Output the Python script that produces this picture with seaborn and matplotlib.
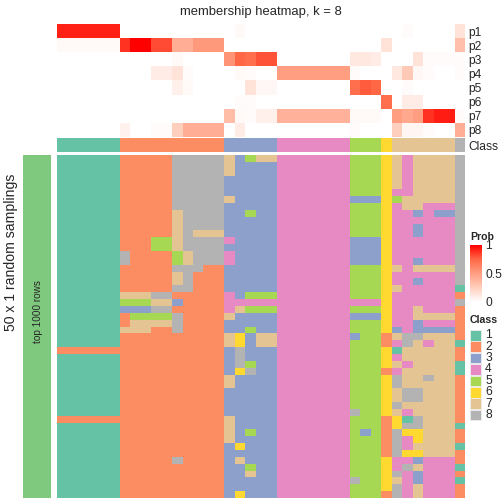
import numpy as np
import matplotlib
matplotlib.use("Agg")
import matplotlib.pyplot as plt
from matplotlib.colors import ListedColormap, LinearSegmentedColormap, Normalize
from matplotlib.cm import ScalarMappable
from matplotlib.patches import Rectangle
import seaborn as sns

sns.set_theme(style="white")
plt.rcParams["font.family"] = ["Liberation Sans", "DejaVu Sans"]

# ── Data ──────────────────────────────────────────────────────────────────────

prob_rows = ["p1", "p2", "p3", "p4", "p5", "p6", "p7", "p8"]
class_labels = ["1", "2", "3", "4", "5", "6", "7", "8"]

# consensus class of each of the 39 samples (columns)
consensus_class = [1] * 6 + [2] * 10 + [3] * 5 + [4] * 7 + [5] * 3 + [6] + [7] * 6 + [8]

# membership probabilities, one list per class (39 samples each)
p1 = [0.92] * 6 + [0] * 11 + [0.03] + [0] * 15 + [0.02] + [0] * 4 + [0.15]
p2 = ([0.03] * 6 + [0.88, 1.0, 1.0, 0.82, 0.82, 0.42, 0.42, 0.52, 0.52, 0.52]
      + [0] * 15 + [0.15] + [0] * 6 + [0.33])
p3 = ([0] * 11 + [0.03] + [0] * 4 + [0.55, 0.75, 0.72, 0.8, 0.8] + [0] * 7
      + [0.12, 0.12, 0.1, 0, 0, 0, 0.15, 0.02, 0.02, 0.02, 0.02])
p4 = ([0] * 9 + [0.1, 0.1, 0.15, 0.02, 0, 0, 0, 0, 0.03, 0.02, 0, 0] + [0.5] * 7
      + [0.02, 0, 0, 0, 0.12, 0.28, 0.04, 0.02, 0, 0, 0.02])
p5 = ([0] * 11 + [0.08, 0.03, 0, 0, 0, 0, 0, 0.15, 0.04, 0.04] + [0] * 7
      + [0.72, 0.78, 0.75, 0, 0, 0.02, 0, 0, 0, 0, 0])
p6 = [0] * 17 + [0.02, 0.02] + [0] * 12 + [0.72, 0, 0.1, 0.1, 0, 0, 0, 0]
p7 = ([0] * 16 + [0.35, 0.03, 0.02, 0.08, 0.08] + [0.4] * 7
      + [0.03, 0.03, 0.03, 0, 0.5, 0.45, 0.5, 0.88, 0.93, 0.93, 0.02])
p8 = ([0] * 6 + [0.07, 0, 0, 0.02, 0.02, 0.25, 0.42, 0.42, 0.42, 0.42, 0, 0.1, 0, 0, 0]
      + [0] * 7 + [0.02, 0, 0, 0, 0.25, 0.05, 0.05, 0.02, 0, 0, 0.42])

# class assigned to each sample (columns) in each of the 50 random samplings (rows)
sampling_classes = [
    "111111222228888873577444444455567477778",
    "111111222228888873333444444455567477778",
    "111111222228888873333444444455567477778",
    "111111222228888833333444444455567477778",
    "111111222228888833333444444455567477778",
    "111111222228888833333444444455564477778",
    "111111222228888873333444444433365777778",
    "111111222228888833333444444455564774448",
    "111111222227888833533444444455564434338",
    "111111222227888833333444444455564444448",
    "111111222227888833333444444455564434448",
    "111111222227877733333444444455564434448",
    "111111222557888843333444444433364444448",
    "111111222557888833333444444433364444448",
    "111111822225788843333444444433364444448",
    "111111822225788843333444444433364434448",
    "111111222228882233333444444455567477778",
    "111111222227822233333444444455564444448",
    "111111222227822233333444444455564434448",
    "111111222228822233333444444455567444441",
    "111111777882222243555444444455564444442",
    "111111555773222244444444444444464444448",
    "111111333882222247555444444455564474442",
    "111111255558222273333444444433364477772",
    "111111277778222233333444444455564434442",
    "111111777228222233533444444455563433332",
    "111111222222222276377444444435527887772",
    "111111222222222276377444444455524874771",
    "222222222222222238333444444455561777772",
    "111111222222222238333444444455564777772",
    "111111222222222238533444444455567477771",
    "111111222222222236833444444455524777771",
    "111111222222222273333444444455568778772",
    "111111222222222273333444444455568777772",
    "111111222222222233333444444455567887772",
    "111111222222222233333444444455567887772",
    "111111222222222233333444444455568777772",
    "111111222222222233333444444485567477772",
    "222222222222222273333444444455526187772",
    "111111222222222273333444444455526887771",
    "111111222222222273533444444453528667772",
    "111111222222222273333444444455528467772",
    "111111222222222236333444444455528477771",
    "111111222222222233333444444455528667772",
    "111111222228222237333444444455564434442",
    "111111222222222233533444444455564874441",
    "111111222222222233733444444455568434442",
    "111111222222222233333444444485567434441",
    "111111222222222233333444444455568474442",
    "111111222222222236333444444455528474442",
]

CLASS_COLORS = ["#66C2A5", "#FC8D62", "#8DA0CB", "#E78AC3",
                "#A6D854", "#FFD92F", "#E5C494", "#B3B3B3"]
SAMPLING_COLOR = "#7FC97F"
PROB_CMAP = LinearSegmentedColormap.from_list(
    "prob", ["#FFFFFF", "#FFCFBE", "#FF9E81", "#FF6846", "#FF0000"])
CLASS_CMAP = ListedColormap(CLASS_COLORS)

# ── Figure ────────────────────────────────────────────────────────────────────

W = H = 504
fig = plt.figure(figsize=(7, 7), dpi=72)


def px_axes(x0, y0, x1, y1):
    """Axes placed by pixel box (top-left origin)."""
    return fig.add_axes([x0 / W, 1 - y1 / H, (x1 - x0) / W, (y1 - y0) / H])


prob = np.array([p1, p2, p3, p4, p5, p6, p7, p8])
classes = np.array([[int(c) for c in row] for row in sampling_classes])

# membership probabilities
ax_prob = px_axes(57, 24, 465, 137)
sns.heatmap(prob, ax=ax_prob, cmap=PROB_CMAP, vmin=0, vmax=1, cbar=False,
            xticklabels=False, yticklabels=prob_rows)

# consensus class row
ax_cls = px_axes(57, 138, 465, 152)
sns.heatmap(np.array([consensus_class]), ax=ax_cls, cmap=CLASS_CMAP,
            vmin=0.5, vmax=8.5, cbar=False, xticklabels=False, yticklabels=["Class"])

for ax in (ax_prob, ax_cls):
    ax.yaxis.tick_right()
    ax.tick_params(axis="y", length=0, pad=3, labelsize=12, rotation=0)

# random samplings
ax_main = px_axes(57, 155, 465, 498)
sns.heatmap(classes, ax=ax_main, cmap=CLASS_CMAP, vmin=0.5, vmax=8.5,
            cbar=False, xticklabels=False, yticklabels=False)

ax_bar = px_axes(23, 155, 51, 498)
sns.heatmap(np.ones((len(sampling_classes), 1)), ax=ax_bar,
            cmap=ListedColormap([SAMPLING_COLOR]), cbar=False,
            xticklabels=False, yticklabels=False)

fig.text(261 / W, 1 - 12 / H, "membership heatmap, k = 8",
         ha="center", va="center", fontsize=13)
fig.text(11 / W, 1 - 252 / H, "50 x 1 random samplings",
         ha="center", va="center", rotation=90, fontsize=14)
fig.text(38 / W, 1 - 312 / H, "top 1000 rows",
         ha="center", va="center", rotation=90, fontsize=10)

# ── Legends ───────────────────────────────────────────────────────────────────

fig.text(470 / W, 1 - 237 / H, "Prob", ha="left", va="center",
         fontsize=10.5, fontweight="bold")
cax = px_axes(470, 245, 482, 302)
cb = fig.colorbar(ScalarMappable(Normalize(0, 1), PROB_CMAP), cax=cax,
                  ticks=[0, 0.5, 1])
cb.outline.set_visible(False)
cax.set_yticklabels(["0", "0.5", "1"])
cax.tick_params(axis="y", direction="in", color="white", length=2.5,
                width=0.8, pad=3, labelsize=12)

fig.text(470 / W, 1 - 320 / H, "Class", ha="left", va="center",
         fontsize=10.5, fontweight="bold")
for i, (lab, col) in enumerate(zip(class_labels, CLASS_COLORS)):
    top = 330 + i * 11.4
    fig.add_artist(Rectangle((470 / W, 1 - (top + 10.6) / H), 11 / W, 10.6 / H,
                             transform=fig.transFigure, facecolor=col,
                             edgecolor="#EEEEEE", linewidth=0.8))
    fig.text(485 / W, 1 - (top + 5.3) / H, lab, ha="left", va="center", fontsize=12)

fig.savefig("out.png", dpi=72)
